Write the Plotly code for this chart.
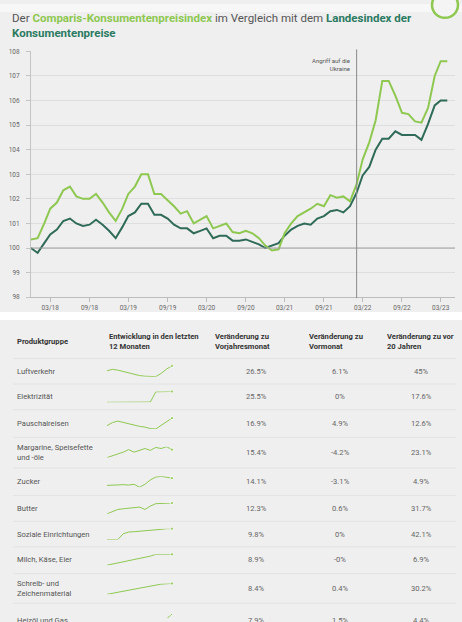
import plotly.graph_objects as go
import pandas as pd

W, H = 462, 622


def X(p):
    return p / W


def Y(p):
    return 1 - p / H


LIGHT = "#8ec850"
DARK = "#2f6b58"
TEAL = "#2b7a62"
FONT = "Roboto"

# ---------------- main chart data ----------------
months = pd.date_range("2017-12-01", periods=65, freq="MS")
comparis = [100.35, 100.4, 101.0, 101.6, 101.85, 102.35, 102.5, 102.1, 102.0, 102.0,
            102.2, 101.85, 101.45, 101.1, 101.6, 102.2, 102.5, 103.0, 103.0, 102.2,
            102.2, 101.95, 101.7, 101.4, 101.5, 101.0, 101.15, 101.3, 100.8, 100.9,
            101.0, 100.65, 100.6, 100.7, 100.6, 100.4, 100.1, 99.9, 99.95, 100.6,
            101.0, 101.3, 101.45, 101.6, 101.8, 101.7, 102.15, 102.05, 102.1, 101.9,
            102.6, 103.6, 104.3, 105.2, 106.8, 106.8, 106.2, 105.5, 105.45, 105.15,
            105.1, 105.7, 107.0, 107.6, 107.6]
lik = [100.0, 99.8, 100.2, 100.55, 100.75, 101.1, 101.2, 101.0, 100.9, 100.95,
       101.15, 100.95, 100.7, 100.4, 100.85, 101.3, 101.45, 101.8, 101.8, 101.35,
       101.35, 101.2, 100.95, 100.8, 100.8, 100.6, 100.7, 100.8, 100.4, 100.5,
       100.5, 100.3, 100.3, 100.35, 100.25, 100.15, 100.0, 100.1, 100.2, 100.5,
       100.75, 100.9, 101.0, 100.95, 101.2, 101.3, 101.5, 101.55, 101.45, 101.7,
       102.25, 102.95, 103.3, 104.0, 104.45, 104.45, 104.75, 104.6, 104.6, 104.6,
       104.4, 105.05, 105.8, 106.0, 106.0]
war_date = "2022-02-01"
war_label = "Angriff auf die<br>Ukraine"

# ---------------- table data ----------------
header = ["Produktgruppe", "Entwicklung in den letzten<br>12 Monaten",
          "Veränderung zu<br>Vorjahresmonat", "Veränderung zu<br>Vormonat",
          "Veränderung zu vor<br>20 Jahren"]
produkt = ["Luftverkehr", "Elektrizität", "Pauschalreisen",
           "Margarine, Speisefette<br>und -öle", "Zucker", "Butter",
           "Soziale Einrichtungen", "Milch, Käse, Eier",
           "Schreib- und<br>Zeichenmaterial", "Heizöl und Gas"]
vorjahr = ["26.5%", "25.5%", "16.9%", "15.4%", "14.1%", "12.3%", "9.8%", "8.9%", "8.4%", "7.9%"]
vormonat = ["6.1%", "0%", "4.9%", "-4.2%", "-3.1%", "0.6%", "0%", "-0%", "0.4%", "1.5%"]
jahre20 = ["45%", "17.6%", "12.6%", "23.1%", "4.9%", "31.7%", "42.1%", "6.9%", "30.2%", "4.4%"]
spark = [
    [6.7, 8, 7.3, 6, 4.7, 3.3, 2.3, 1.7, 1.3, 1.3, 4.3, 8.3, 11.3],
    [0, 0, 0, 0, 0, 0, 0, 0, 0.02, 0.97, 0.98, 0.98, 1.0],
    [20, 28, 32, 28, 24, 21, 18, 16, 12, 11, 20, 30, 40],
    [10, 14, 20, 25, 32, 25, 30, 35, 30, 38, 35, 40, 32],
    [10, 11, 12, 12, 11, 13, 5, 13, 25, 33, 35, 33, 30],
    [5, 12, 18, 20, 22, 23, 25, 18, 28, 35, 36, 36, 37],
    [3, 3, 3, 20, 25, 26, 27, 28, 29, 30, 33, 35, 35],
    [5, 8, 12, 15, 17, 20, 23, 27, 30, 35, 35, 35, 35],
    [5, 8, 10, 13, 17, 20, 23, 27, 30, 33, 35, 36, 37],
    [0, 0, 0, 0, 0, 0, 0, 0, 1, 2, 3, 5, 9],
]

# ---------------- layout positions (px) ----------------
row_y = [372, 398, 425, 454, 484, 511, 537, 563, 592.5, 624.5]
spark_y = [372, 398, 425, 454, 484, 511, 537, 563, 592.5, 623.5]
sep_y = [359, 385, 411, 439, 470, 498, 524, 550, 577, 607]
header_y = 342
col_x = [15, 107, 213, 307, 385]
val_cx = [256, 340, 421]
SPARK_H = 11
TXT = 7.6

fig = go.Figure()

fig.add_trace(go.Scatter(x=months, y=lik, mode="lines", name="LIK",
                         line=dict(color=DARK, width=2), hoverinfo="skip",
                         xaxis="x", yaxis="y"))
fig.add_trace(go.Scatter(x=months, y=comparis, mode="lines", name="Comparis",
                         line=dict(color=LIGHT, width=2), hoverinfo="skip",
                         xaxis="x", yaxis="y"))

layout = dict(
    width=W, height=H, autosize=False,
    margin=dict(l=0, r=0, t=0, b=0),
    paper_bgcolor="#efefef", plot_bgcolor="#efefef",
    showlegend=False,
    font=dict(family=FONT, color="#555"),
    xaxis=dict(domain=[X(31), X(455)], type="date",
               range=["2017-12-01", "2023-05-07"],
               tickformat="%m/%y", dtick="M6", tick0="2018-03-01",
               ticks="outside", ticklen=4, tickcolor="#bdbdbd",
               showline=True, linecolor="#bdbdbd", showgrid=False,
               zeroline=False, tickfont=dict(size=6.5, color="#666"),
               anchor="y"),
    yaxis=dict(domain=[Y(297), Y(48)], range=[98, 108], dtick=1,
               showgrid=True, gridcolor="#dedede", gridwidth=1,
               ticks="outside", ticklen=4, tickcolor="#c4c4c4",
               showline=True, linecolor="#c4c4c4", zeroline=False,
               ticklabelstandoff=5,
               tickfont=dict(size=6.5, color="#666"), anchor="x"),
)

shapes = []
annotations = []

# light strip at the very top
shapes.append(dict(type="rect", xref="paper", yref="paper", x0=0, x1=1,
                   y0=Y(8), y1=1, fillcolor="#f7f7f7",
                   line=dict(width=0), layer="below"))
# white band between chart and table
shapes.append(dict(type="rect", xref="paper", yref="paper", x0=0, x1=1,
                   y0=Y(320), y1=Y(312), fillcolor="#ffffff",
                   line=dict(width=0), layer="below"))
# decorative green ring top right
shapes.append(dict(type="circle", xref="paper", yref="paper",
                   x0=X(432), x1=X(458), y0=Y(14), y1=Y(-12),
                   line=dict(color=LIGHT, width=2.5), fillcolor="#f4f4f4"))
# reference line at 100
shapes.append(dict(type="line", xref="paper", yref="y", x0=X(31), x1=X(455),
                   y0=100, y1=100, line=dict(color="#9e9e9e", width=1)))
# war line
shapes.append(dict(type="line", xref="x", yref="paper", x0=war_date, x1=war_date,
                   y0=Y(298), y1=Y(46), line=dict(color="#8a8a8a", width=1)))

annotations.append(dict(xref="paper", yref="paper", x=X(352), y=Y(61),
                        xanchor="right", yanchor="middle", align="right",
                        text=war_label, showarrow=False,
                        font=dict(size=6, color="#555")))

# title
annotations.append(dict(
    xref="paper", yref="paper", x=X(10), y=Y(14), xanchor="left", yanchor="middle",
    text=("Der <b><span style='color:%s'>Comparis-Konsumentenpreisindex</span></b> "
          "im Vergleich mit dem <b><span style='color:%s'>Landesindex der</span></b>") % (LIGHT, TEAL),
    showarrow=False, font=dict(size=11.5, color="#555", family=FONT)))
annotations.append(dict(
    xref="paper", yref="paper", x=X(10), y=Y(29.5), xanchor="left", yanchor="middle",
    text="<b><span style='color:%s'>Konsumentenpreise</span></b>" % TEAL,
    showarrow=False, font=dict(size=11.5, color="#555", family=FONT)))

# table header
for hx, ht in zip(col_x, header):
    annotations.append(dict(xref="paper", yref="paper", x=X(hx), y=Y(header_y),
                            xanchor="left", yanchor="middle", align="left",
                            text="<b>%s</b>" % ht, showarrow=False,
                            font=dict(size=TXT, color="#333")))

# separators
for sy in sep_y:
    shapes.append(dict(type="line", xref="paper", yref="paper", x0=X(13), x1=X(456),
                       y0=Y(sy), y1=Y(sy), line=dict(color="#e2e2e2", width=1)))

# rows
for i, ry in enumerate(row_y):
    annotations.append(dict(xref="paper", yref="paper", x=X(col_x[0]), y=Y(ry),
                            xanchor="left", yanchor="middle", align="left",
                            text=produkt[i], showarrow=False,
                            font=dict(size=TXT, color="#555")))
    for cx, vals in zip(val_cx, [vorjahr, vormonat, jahre20]):
        annotations.append(dict(xref="paper", yref="paper", x=X(cx), y=Y(ry),
                                xanchor="center", yanchor="middle",
                                text=vals[i], showarrow=False,
                                font=dict(size=TXT, color="#666")))
    k = i + 2
    vals = spark[i]
    lo, hi = min(vals), max(vals)
    top = spark_y[i] - SPARK_H / 2
    bottom = spark_y[i] + SPARK_H / 2
    if bottom > H:
        lo = hi - (hi - lo) * (H - top) / SPARK_H
        bottom = H
    layout["xaxis%d" % k] = dict(domain=[X(107), X(172)], range=[0, 12],
                                 visible=False, anchor="y%d" % k, fixedrange=True)
    layout["yaxis%d" % k] = dict(domain=[max(0.0, Y(bottom)), Y(top)], range=[lo, hi],
                                 visible=False, anchor="x%d" % k, fixedrange=True)
    fig.add_trace(go.Scatter(x=list(range(len(vals))), y=vals, mode="lines+markers",
                             line=dict(color=LIGHT, width=1),
                             marker=dict(color=LIGHT, size=[0] * (len(vals) - 1) + [3.5]),
                             cliponaxis=True if i == len(row_y) - 1 else False,
                             hoverinfo="skip",
                             xaxis="x%d" % k, yaxis="y%d" % k))

layout["shapes"] = shapes
layout["annotations"] = annotations
fig.update_layout(**layout)

fig.write_html("out.html", config={"displayModeBar": False},
               post_script="document.body.style.margin='0px';")
